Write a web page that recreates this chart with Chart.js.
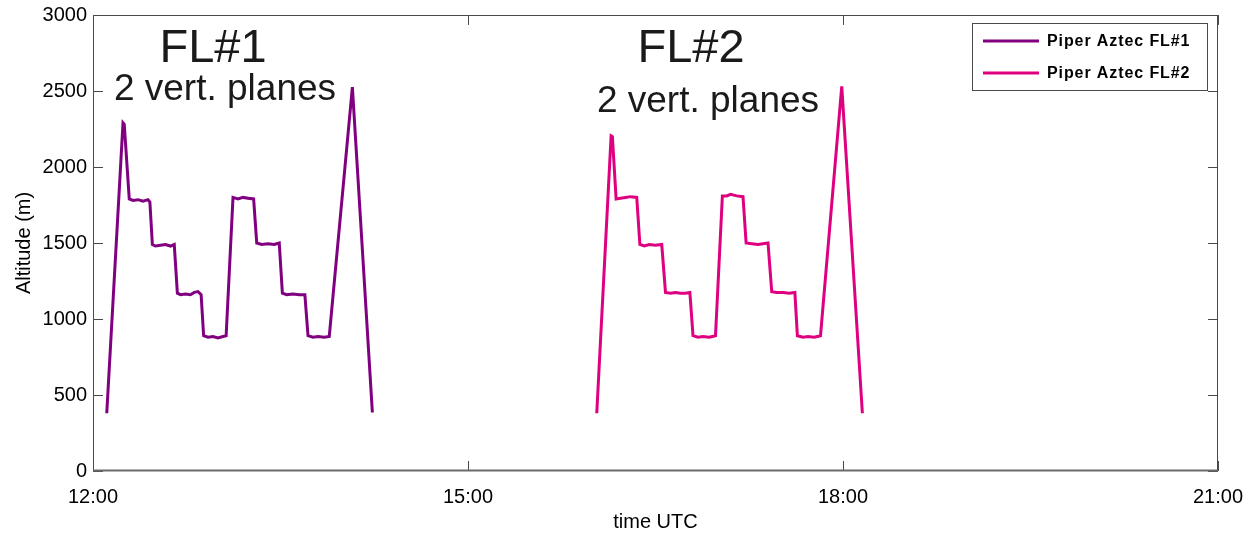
<!DOCTYPE html>
<html>
<head>
<meta charset="utf-8">
<script src="https://cdn.jsdelivr.net/npm/chart.js@4.4.1/dist/chart.umd.min.js"></script>
<style>
  html, body { margin: 0; padding: 0; background: #fff; }
  #wrap { width: 1246px; height: 535px; position: relative; }
</style>
</head>
<body>
<div id="wrap"><canvas id="c"></canvas></div>
<script>
// Flight 1: time (decimal hours UTC) and altitude (m)
const fl1Time = [12.11, 12.24, 12.25, 12.29, 12.32, 12.36, 12.40, 12.44, 12.455,
  12.475, 12.50, 12.54, 12.58, 12.62, 12.65,
  12.675, 12.70, 12.74, 12.78, 12.81, 12.84, 12.865,
  12.885, 12.92, 12.96, 13.00, 13.04, 13.065,
  13.12, 13.16, 13.20, 13.24, 13.285,
  13.31, 13.35, 13.40, 13.45, 13.49,
  13.515, 13.55, 13.60, 13.65, 13.695,
  13.72, 13.76, 13.80, 13.85, 13.89,
  14.075, 14.235];
const fl1Alt = [380, 2290, 2280, 1790, 1780, 1785, 1775, 1785, 1770,
  1490, 1480, 1485, 1490, 1480, 1490,
  1170, 1160, 1165, 1160, 1175, 1180, 1160,
  890, 880, 885, 875, 885, 890,
  1800, 1790, 1800, 1795, 1790,
  1500, 1490, 1495, 1490, 1500,
  1170, 1160, 1165, 1160, 1160,
  890, 880, 885, 880, 885,
  2525, 385];

// Flight 2: time (decimal hours UTC) and altitude (m)
const fl2Time = [16.03, 16.145, 16.155, 16.185, 16.22, 16.26, 16.30, 16.35,
  16.375, 16.41, 16.45, 16.50, 16.55,
  16.58, 16.62, 16.66, 16.70, 16.74, 16.775,
  16.80, 16.84, 16.88, 16.93, 16.98,
  17.035, 17.07, 17.10, 17.15, 17.20,
  17.225, 17.27, 17.32, 17.36, 17.40,
  17.43, 17.47, 17.52, 17.57, 17.615,
  17.635, 17.68, 17.72, 17.77, 17.82,
  17.99, 18.155];
const fl2Alt = [380, 2205, 2200, 1790, 1795, 1800, 1805, 1800,
  1490, 1480, 1490, 1485, 1490,
  1175, 1170, 1175, 1170, 1170, 1175,
  890, 880, 885, 880, 890,
  1810, 1810, 1820, 1810, 1805,
  1500, 1495, 1490, 1495, 1500,
  1180, 1175, 1175, 1170, 1175,
  890, 880, 885, 880, 890,
  2530, 380];

const seriesLabels = ['Piper Aztec FL#1', 'Piper Aztec FL#2'];
const xTickHours = [12, 15, 18, 21];
const yTickValues = [0, 500, 1000, 1500, 2000, 2500, 3000];

const FONT = "'Liberation Sans', Arial, Helvetica, sans-serif";
const FRAME = '#4a4a4a';

function toPoints(t, a) { return t.map((v, i) => ({ x: v, y: a[i] })); }

// Text blocks placed in data coordinates (hours, metres)
const notes = [
  { text: 'FL#1', x: 12.96, y: 2691, size: 47 },
  { text: '2 vert. planes', x: 13.056, y: 2441, size: 37 },
  { text: 'FL#2', x: 16.784, y: 2691, size: 47 },
  { text: '2 vert. planes', x: 16.92, y: 2362, size: 37 }
];

// Box around the plot with inward tick marks on all four sides
const frameTicks = {
  id: 'frameTicks',
  afterDatasetsDraw(chart) {
    const { ctx, chartArea: a, scales: { x, y } } = chart;
    ctx.save();
    ctx.strokeStyle = FRAME;
    ctx.lineWidth = 1;
    ctx.strokeRect(a.left + 0.5, a.top + 0.5, a.right - a.left - 1, a.bottom - a.top - 1);
    const L = 10;
    ctx.beginPath();
    xTickHours.forEach(h => {
      const px = Math.round(x.getPixelForValue(h)) + 0.5;
      ctx.moveTo(px, a.bottom); ctx.lineTo(px, a.bottom - L);
      ctx.moveTo(px, a.top); ctx.lineTo(px, a.top + L);
    });
    yTickValues.forEach(v => {
      const py = Math.round(y.getPixelForValue(v)) + 0.5;
      ctx.moveTo(a.left, py); ctx.lineTo(a.left + L, py);
      ctx.moveTo(a.right, py); ctx.lineTo(a.right - L, py);
    });
    ctx.stroke();
    // slightly heavier baseline along the time axis
    ctx.strokeStyle = '#6a6a6a';
    ctx.lineWidth = 2;
    ctx.beginPath();
    ctx.moveTo(a.left, a.bottom - 0.5); ctx.lineTo(a.right, a.bottom - 0.5);
    ctx.stroke();
    ctx.restore();
  }
};

const noteText = {
  id: 'noteText',
  afterDraw(chart) {
    const { ctx, scales: { x, y } } = chart;
    ctx.save();
    ctx.fillStyle = '#1a1a1a';
    ctx.textAlign = 'center';
    ctx.textBaseline = 'alphabetic';
    notes.forEach(n => {
      ctx.font = n.size + 'px ' + FONT;
      ctx.fillText(n.text, x.getPixelForValue(n.x), y.getPixelForValue(n.y));
    });
    ctx.restore();
  }
};

// Legend box inside the upper right corner of the plot
const legendBox = {
  id: 'legendBox',
  afterDraw(chart) {
    const { ctx, chartArea: a } = chart;
    const w = 235, h = 67;
    const x0 = a.right - 246, y0 = a.top + 8;
    ctx.save();
    ctx.fillStyle = '#fff';
    ctx.fillRect(x0, y0, w, h);
    ctx.strokeStyle = FRAME;
    ctx.lineWidth = 1;
    ctx.strokeRect(x0 + 0.5, y0 + 0.5, w, h);
    chart.data.datasets.forEach((ds, i) => {
      const ly = y0 + 18 + i * 32;
      ctx.strokeStyle = ds.borderColor;
      ctx.lineWidth = 3;
      ctx.beginPath();
      ctx.moveTo(x0 + 11, ly); ctx.lineTo(x0 + 67, ly);
      ctx.stroke();
      ctx.fillStyle = '#000';
      ctx.font = 'bold 16px ' + FONT;
      if ('letterSpacing' in ctx) ctx.letterSpacing = '0.9px';
      ctx.textAlign = 'left';
      ctx.textBaseline = 'middle';
      ctx.fillText(ds.label, x0 + 75, ly + 1);
    });
    ctx.restore();
  }
};

new Chart(document.getElementById('c'), {
  type: 'line',
  data: {
    datasets: [
      { label: seriesLabels[0], data: toPoints(fl1Time, fl1Alt), borderColor: '#800080',
        borderWidth: 3, pointRadius: 0, tension: 0, fill: false },
      { label: seriesLabels[1], data: toPoints(fl2Time, fl2Alt), borderColor: '#df0080',
        borderWidth: 3, pointRadius: 0, tension: 0, fill: false }
    ]
  },
  options: {
    responsive: true,
    maintainAspectRatio: false,
    animation: false,
    layout: { padding: { left: 0, top: 15, right: 28, bottom: 0 } },
    plugins: { legend: { display: false }, tooltip: { enabled: false } },
    scales: {
      x: {
        type: 'linear', min: 12, max: 21,
        afterBuildTicks(s) { s.ticks = xTickHours.map(v => ({ value: v })); },
        afterFit(s) { s.height = 64; s.paddingLeft = 0; s.paddingRight = 0; },
        grid: { display: false, drawTicks: false },
        border: { display: false },
        ticks: { color: '#000', font: { family: FONT, size: 20 }, padding: 14,
          maxRotation: 0, autoSkip: false,
          callback: v => v + ':00' },
        title: { display: true, text: 'time UTC', color: '#000',
          font: { family: FONT, size: 20 }, padding: { top: 0, bottom: 1 } }
      },
      y: {
        type: 'linear', min: 0, max: 3000,
        afterBuildTicks(s) { s.ticks = yTickValues.map(v => ({ value: v })); },
        afterFit(s) { s.width = 93; s.paddingTop = 0; s.paddingBottom = 0; },
        grid: { display: false, drawTicks: false },
        border: { display: false },
        ticks: { color: '#000', font: { family: FONT, size: 20 }, padding: 6,
          callback: v => String(v) },
        title: { display: true, text: 'Altitude (m)', color: '#000',
          font: { family: FONT, size: 20 }, padding: { top: 12, bottom: 0 } }
      }
    }
  },
  plugins: [frameTicks, noteText, legendBox]
});
</script>
</body>
</html>
